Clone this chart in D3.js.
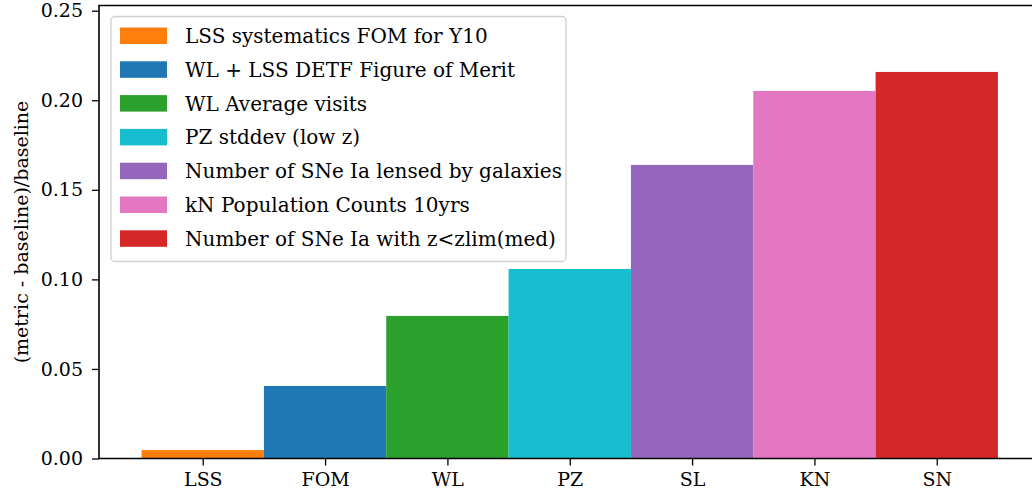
<!DOCTYPE html>
<html>
<head>
<meta charset="utf-8">
<script src="https://cdn.jsdelivr.net/npm/d3@7"></script>
<style>
  html, body { margin: 0; padding: 0; background: #fff; }
  svg { display: block; }
  text { font-family: "DejaVu Serif", "Liberation Serif", serif; fill: #000; }
</style>
</head>
<body>
<svg id="chart" width="1032" height="498"></svg>
<script>
// Short metric keys shown on the x axis
const categories = ["LSS", "FOM", "WL", "PZ", "SL", "KN", "SN"];
// Relative change of each metric against the baseline
const values = [0.0047, 0.0405, 0.0796, 0.1058, 0.1639, 0.2052, 0.2158];
// Full metric names listed in the legend
const legendLabels = [
  "LSS systematics FOM for Y10",
  "WL + LSS DETF Figure of Merit",
  "WL Average visits",
  "PZ stddev (low z)",
  "Number of SNe Ia lensed by galaxies",
  "kN Population Counts 10yrs",
  "Number of SNe Ia with z<zlim(med)"
];
const colors = ["#ff7f0e", "#1f77b4", "#2ca02c", "#17becf", "#9467bd", "#e377c2", "#d62728"];
const yTicks = [0.00, 0.05, 0.10, 0.15, 0.20, 0.25];
const yLabel = "(metric - baseline)/baseline";

const svg = d3.select("#chart");
const plot = { left: 99, top: 5.5, bottom: 458.5 };
const idx = categories.map((d, i) => i);

// category index -> pixel (axes span slightly wider than the page)
const x = d3.scaleLinear().domain([-0.848, 6.848]).range([plot.left, 1040.5]);
const y = d3.scaleLinear().domain([0, 0.2529]).range([plot.bottom, plot.top]);

const color = d3.scaleOrdinal().domain(categories).range(colors);

// bars, each one category unit wide
svg.append("g").selectAll("rect")
  .data(idx)
  .join("rect")
  .attr("x", i => x(i - 0.5))
  .attr("width", i => x(i + 0.5) - x(i - 0.5))
  .attr("y", i => y(values[i]))
  .attr("height", i => y(0) - y(values[i]))
  .attr("fill", i => color(categories[i]));

// x axis
const xAxis = d3.axisBottom(x)
  .tickValues(idx)
  .tickFormat(i => categories[i])
  .tickSize(7).tickPadding(6);
const gx = svg.append("g")
  .attr("transform", `translate(0,${plot.bottom})`)
  .call(xAxis);
gx.select(".domain").remove();
gx.selectAll("line").attr("stroke", "#000").attr("stroke-width", 1.3);
gx.selectAll("text").attr("font-size", 19).attr("font-family", "DejaVu Serif").attr("fill", "#000").attr("dy", "0.75em");

// y axis
const yAxis = d3.axisLeft(y)
  .tickValues(yTicks)
  .tickFormat(d3.format(".2f"))
  .tickSize(7).tickPadding(9);
const gy = svg.append("g")
  .attr("transform", `translate(${plot.left},0)`)
  .call(yAxis);
gy.select(".domain").remove();
gy.selectAll("line").attr("stroke", "#000").attr("stroke-width", 1.3);
gy.selectAll("text").attr("font-size", 19).attr("font-family", "DejaVu Serif").attr("fill", "#000");

// spines
svg.append("path")
  .attr("d", `M1040,${plot.top}H${plot.left}V${plot.bottom}H1040`)
  .attr("fill", "none").attr("stroke", "#000").attr("stroke-width", 1.6);

// y axis title
svg.append("text")
  .attr("transform", `translate(28,${(plot.top + plot.bottom) / 2}) rotate(-90)`)
  .attr("text-anchor", "middle")
  .attr("font-size", 19)
  .text(yLabel);

// legend
const lg = svg.append("g").attr("transform", "translate(111,16.5)");
lg.append("rect")
  .attr("width", 455).attr("height", 245)
  .attr("rx", 4).attr("ry", 4)
  .attr("fill", "#fff").attr("fill-opacity", 0.8)
  .attr("stroke", "#d0d0d0").attr("stroke-width", 1.3);
const items = lg.selectAll("g.item")
  .data(idx)
  .join("g")
  .attr("class", "item")
  .attr("transform", i => `translate(0,${11 + i * 33.8})`);
items.append("rect")
  .attr("x", 9).attr("width", 47).attr("height", 16.5)
  .attr("fill", i => colors[i]);
items.append("text")
  .attr("x", 74).attr("y", 15.5)
  .attr("font-size", 20)
  .text(i => legendLabels[i]);
</script>
</body>
</html>
